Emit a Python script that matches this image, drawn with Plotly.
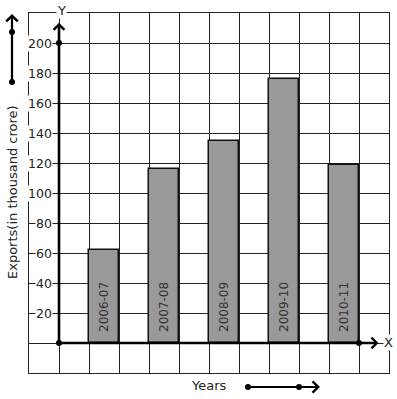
import plotly.graph_objects as go

years = ["2006-07", "2007-08", "2008-09", "2009-10", "2010-11"]
exports = [62, 116, 135, 176, 119]
y_ticks = [20, 40, 60, 80, 100, 120, 140, 160, 180, 200]

FONT = "DejaVu Sans"
W, H = 397, 399
L, R, T, B = 29, 8, 13, 26
PW, PH = W - L - R, H - T - B

def px_x(p):
    return (p - L) / PW

def px_y(p):
    return (H - B - p) / PH

xpos = [1.5 + 2 * i for i in range(len(years))]

fig = go.Figure()
fig.add_trace(go.Bar(
    x=xpos, y=exports, width=1,
    marker=dict(color="#999999", line=dict(color="#111111", width=1.5)),
    hoverinfo="skip",
))

fig.add_trace(go.Scatter(
    x=[0, 10, 0], y=[0, 0, 200], mode="markers",
    marker=dict(color="black", size=6), cliponaxis=False, hoverinfo="skip",
))

ann = []
for xv, yr in zip(xpos, years):
    ann.append(dict(x=xv, y=0, xref="x", yref="y", text=yr, showarrow=False,
                    textangle=-90, xanchor="center", yanchor="bottom", yshift=9,
                    font=dict(family=FONT, size=12, color="#333333")))
for v in y_ticks:
    ann.append(dict(x=px_x(53), y=v, xref="paper", yref="y", text=str(v),
                    showarrow=False, xanchor="right", yanchor="middle",
                    bgcolor="white", borderpad=0,
                    font=dict(family=FONT, size=12.5, color="#222222")))
AX = dict(text="", showarrow=True, arrowhead=4, arrowsize=0.8, arrowwidth=2.6,
          arrowcolor="black")
ann.append(dict(x=10.65, y=0, ax=0, ay=0, xref="x", yref="y", axref="x", ayref="y", **AX))
ann.append(dict(x=0, y=213.5, ax=0, ay=0, xref="x", yref="y", axref="x", ayref="y", **AX))

def label(px, py, text, size, angle=0):
    return dict(x=px_x(px), y=px_y(py), xref="paper", yref="paper", text=text,
                showarrow=False, xanchor="center", yanchor="middle", textangle=angle,
                font=dict(family=FONT, size=size, color="#222222"))

lx = label(388, 342, "X", 13); lx.update(bgcolor="white", borderpad=0)
ly = label(61, 10, "Y", 13); ly.update(bgcolor="white", borderpad=0)
ann += [lx, ly,
        label(12, 192, "Exports(in thousand crore)", 13, -90),
        label(209, 385, "Years", 13)]

AX2 = dict(text="", showarrow=True, arrowhead=4, arrowsize=1.0, arrowwidth=2.2,
           arrowcolor="black")
ann.append(dict(x=px_x(12), y=px_y(14), xref="paper", yref="paper", ax=0, ay=68, **AX2))
ann.append(dict(x=px_x(320), y=px_y(387), xref="paper", yref="paper", ax=-72, ay=0, **AX2))

shapes = []
for (dx, dy) in [(12, 32), (12, 82), (248, 387), (299, 387)]:
    shapes.append(dict(type="circle", xref="paper", yref="paper",
                       xsizemode="pixel", ysizemode="pixel",
                       xanchor=px_x(dx), yanchor=px_y(dy),
                       x0=-3, x1=3, y0=-3, y1=3,
                       fillcolor="black", line=dict(width=0)))

fig.update_layout(
    width=W, height=H, margin=dict(l=L, r=R, t=T, b=B),
    paper_bgcolor="white", plot_bgcolor="white", showlegend=False,
    annotations=ann, shapes=shapes, bargap=0,
    xaxis=dict(range=[-1, 11], dtick=1, tick0=0, showgrid=True, gridcolor="#222222",
               gridwidth=1.3, zeroline=False, showticklabels=False, ticks="",
               showline=True, mirror=True, linecolor="#222222", linewidth=1.3,
               fixedrange=True),
    yaxis=dict(range=[-20, 220], dtick=20, tick0=0, showgrid=True, gridcolor="#222222",
               gridwidth=1.3, zeroline=False, showticklabels=False, ticks="",
               showline=True, mirror=True, linecolor="#222222", linewidth=1.3,
               fixedrange=True),
)

fig.write_html("out.html", config={"displayModeBar": False},
               post_script="document.body.style.margin='0';")
